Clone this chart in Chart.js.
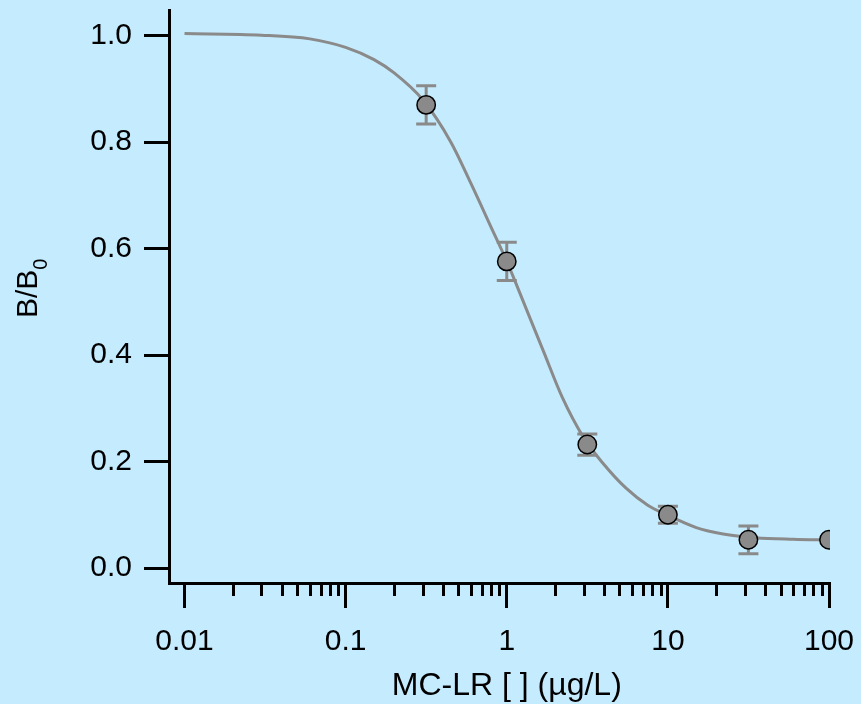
<!DOCTYPE html>
<html>
<head>
<meta charset="utf-8">
<script src="https://cdn.jsdelivr.net/npm/chart.js@4.4.1/dist/chart.umd.min.js"></script>
<style>
  html, body { margin: 0; padding: 0; background: #C5EBFE; }
  #wrap { width: 861px; height: 704px; }
</style>
</head>
<body>
<div id="wrap"><canvas id="competitionChart" width="861" height="704"></canvas></div>
<script>
// measured points (MC-LR standards)
const concentrations = [0.316, 1, 3.16, 10, 31.6, 100];
const ratios = [0.870, 0.576, 0.232, 0.100, 0.053, 0.053];
const ratioErrors = [0.036, 0.036, 0.020, 0.016, 0.026, 0];

// fitted curve
const fitX = [0.01, 0.03, 0.06, 0.1, 0.15, 0.2, 0.3, 0.45, 0.6, 0.8, 1.0, 1.3, 1.7, 2.2, 3.0, 4.0, 5.5, 7.5, 10, 15, 22, 35, 60, 100];
const fitY = [1.004, 1.001, 0.994, 0.978, 0.955, 0.930, 0.880, 0.800, 0.722, 0.640, 0.576, 0.492, 0.405, 0.322, 0.245, 0.195, 0.150, 0.118, 0.099, 0.076, 0.064, 0.057, 0.054, 0.0525];

const xTickValues = [0.01, 0.1, 1, 10, 100];
const xTickLabels = ['0.01', '0.1', '1', '10', '100'];
const xMinorMultiples = [2, 3, 4, 5, 6, 7, 8, 9];
const yTickValues = [0, 0.2, 0.4, 0.6, 0.8, 1.0];
const yTickLabels = ['0.0', '0.2', '0.4', '0.6', '0.8', '1.0'];

const BG = '#C5EBFE';
const GREY = '#8a8a8a';
const FONT = "'Liberation Sans', Arial, Helvetica, sans-serif";

const backgroundPlugin = {
    id: 'bg',
    beforeDraw(chart) {
        const ctx = chart.ctx;
        ctx.save();
        ctx.fillStyle = BG;
        ctx.fillRect(0, 0, chart.width, chart.height);
        ctx.restore();
    }
};

const errorBarPlugin = {
    id: 'errorBars',
    beforeDatasetsDraw(chart) {
        const { ctx, scales: { x, y } } = chart;
        ctx.save();
        ctx.strokeStyle = GREY;
        ctx.lineWidth = 3;
        concentrations.forEach((c, i) => {
            if (!ratioErrors[i]) return;
            const px = x.getPixelForValue(c);
            const top = y.getPixelForValue(ratios[i] + ratioErrors[i]);
            const bot = y.getPixelForValue(ratios[i] - ratioErrors[i]);
            ctx.beginPath();
            ctx.moveTo(px, top); ctx.lineTo(px, bot);
            ctx.moveTo(px - 10, top); ctx.lineTo(px + 10, top);
            ctx.moveTo(px - 10, bot); ctx.lineTo(px + 10, bot);
            ctx.stroke();
        });
        ctx.restore();
    }
};

const axisExtrasPlugin = {
    id: 'axisExtras',
    afterDraw(chart) {
        const { ctx, scales: { x, y } } = chart;
        ctx.save();
        // minor log ticks
        ctx.strokeStyle = '#000';
        ctx.lineWidth = 3;
        ctx.beginPath();
        xTickValues.slice(0, -1).forEach(dec => {
            xMinorMultiples.forEach(m => {
                const px = Math.round(x.getPixelForValue(dec * m)) + 0.5;
                ctx.moveTo(px, x.top);
                ctx.lineTo(px, x.top + 13);
            });
        });
        ctx.stroke();

        // x title, centred on the decade range
        ctx.fillStyle = '#000';
        ctx.font = '32px ' + FONT;
        ctx.textAlign = 'center';
        ctx.textBaseline = 'alphabetic';
        const cx = (x.getPixelForValue(xTickValues[0]) + x.getPixelForValue(xTickValues[xTickValues.length - 1])) / 2;
        ctx.fillText('MC-LR [ ] (µg/L)', cx, 695);

        // y title B/B0 with subscript
        ctx.translate(37, 318);
        ctx.rotate(-Math.PI / 2);
        ctx.textAlign = 'left';
        ctx.font = '30px ' + FONT;
        ctx.fillText('B/B', 0, 0);
        const w = ctx.measureText('B/B').width;
        ctx.font = '20px ' + FONT;
        ctx.fillText('0', w, 10);
        ctx.restore();
    }
};

new Chart(document.getElementById('competitionChart'), {
    type: 'scatter',
    data: {
        datasets: [{
            label: 'B/B0',
            data: concentrations.map((c, i) => ({ x: c, y: ratios[i] })),
            backgroundColor: GREY,
            borderColor: '#000',
            borderWidth: 1.5,
            pointRadius: 9.2,
            order: 0
        }, {
            label: 'fit',
            type: 'line',
            data: fitX.map((v, i) => ({ x: v, y: fitY[i] })),
            borderColor: GREY,
            borderWidth: 3,
            pointRadius: 0,
            fill: false,
            cubicInterpolationMode: 'monotone',
            order: 1
        }]
    },
    options: {
        responsive: false,
        animation: false,
        layout: { padding: { top: 9, right: 31, left: 0, bottom: 0 } },
        plugins: {
            legend: { display: false },
            tooltip: { enabled: false }
        },
        scales: {
            x: {
                type: 'logarithmic',
                position: 'bottom',
                min: 0.00801,
                max: 101.4,
                grid: { drawOnChartArea: false, drawTicks: true, tickLength: 25, tickWidth: 3, tickColor: '#000' },
                border: { display: true, color: '#000', width: 3 },
                ticks: {
                    color: '#000',
                    font: { family: FONT, size: 30 },
                    padding: 16,
                    autoSkip: false,
                    maxRotation: 0,
                    callback: (v, i) => xTickLabels[i]
                },
                afterBuildTicks: s => { s.ticks = xTickValues.map(v => ({ value: v })); },
                afterFit: s => { s.height = 121; s.paddingLeft = 0; s.paddingRight = 0; }
            },
            y: {
                min: -0.0281,
                max: 1.0469,
                grid: { drawOnChartArea: false, drawTicks: true, tickLength: 25, tickWidth: 3, tickColor: '#000' },
                border: { display: true, color: '#000', width: 3 },
                ticks: {
                    color: '#000',
                    font: { family: FONT, size: 30 },
                    padding: 12,
                    callback: (v, i) => yTickLabels[i]
                },
                afterBuildTicks: s => { s.ticks = yTickValues.map(v => ({ value: v })); },
                afterFit: s => { s.width = 169; s.paddingTop = 0; s.paddingBottom = 0; }
            }
        }
    },
    plugins: [backgroundPlugin, errorBarPlugin, axisExtrasPlugin]
});
</script>
</body>
</html>
